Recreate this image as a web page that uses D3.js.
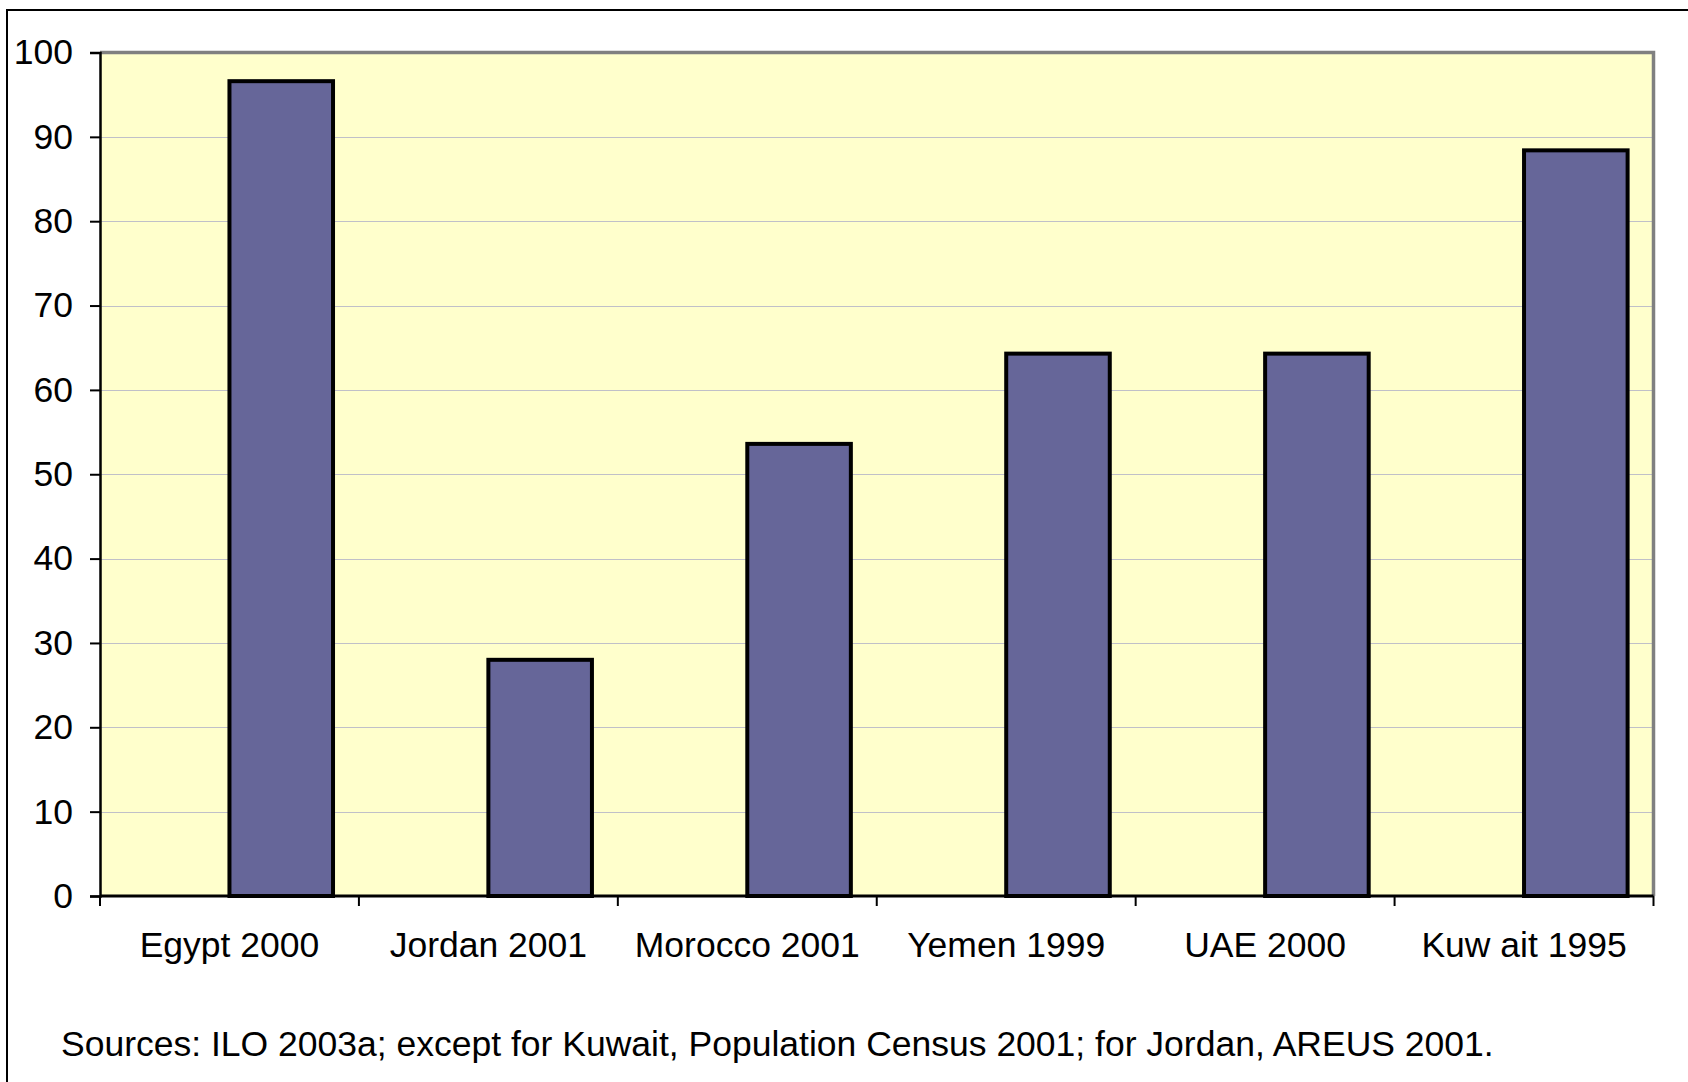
<!DOCTYPE html>
<html>
<head>
<meta charset="utf-8">
<script src="https://cdn.jsdelivr.net/npm/d3@7"></script>
<style>
  html, body { margin: 0; padding: 0; background: #ffffff; }
  svg { display: block; }
  text { font-family: Arial, "Liberation Sans", sans-serif; fill: #000; }
</style>
</head>
<body>
<svg id="chart" width="1688" height="1082"></svg>
<script>
const categories = ["Egypt 2000", "Jordan 2001", "Morocco 2001", "Yemen 1999", "UAE 2000", "Kuw ait 1995"];
const values = [96.6, 28.0, 53.6, 64.3, 64.3, 88.4];
const yTicks = [0, 10, 20, 30, 40, 50, 60, 70, 80, 90, 100];
const sourceNote = "Sources: ILO 2003a; except for Kuwait, Population Census 2001; for Jordan, AREUS 2001.";

const svg = d3.select("#chart");
const W = 1688, H = 1082;
const plot = { left: 100, right: 1653.5, top: 52.5, bottom: 896 };
const FS = 35.5;

// outer frame
svg.append("rect")
  .attr("x", 7).attr("y", 10)
  .attr("width", W + 20).attr("height", H + 20)
  .attr("fill", "#ffffff").attr("stroke", "#000").attr("stroke-width", 2);

const x = d3.scaleBand().domain(categories).range([plot.left, plot.right]).paddingInner(0).paddingOuter(0);
const y = d3.scaleLinear().domain([0, 100]).range([plot.bottom, plot.top]);

// plot area
svg.append("rect")
  .attr("x", plot.left).attr("y", plot.top)
  .attr("width", plot.right - plot.left).attr("height", plot.bottom - plot.top)
  .attr("fill", "#FFFFCC");

// gridlines
svg.append("g").selectAll("line")
  .data(yTicks.filter(t => t > 0 && t < 100))
  .join("line")
  .attr("x1", plot.left).attr("x2", plot.right)
  .attr("y1", d => Math.round(y(d)) + 0.5).attr("y2", d => Math.round(y(d)) + 0.5)
  .attr("stroke", "#C0C0C8").attr("stroke-width", 1.2);

// gray top/right border
svg.append("path")
  .attr("d", `M${plot.left},${plot.top} L${plot.right},${plot.top} L${plot.right},${plot.bottom}`)
  .attr("fill", "none").attr("stroke", "#808080").attr("stroke-width", 3.5);

// bars (second series of a two-series group with 50% gap)
const bw = x.bandwidth() * 0.4;
svg.append("g").selectAll("rect")
  .data(categories.map((c, i) => ({ c, v: values[i] })))
  .join("rect")
  .attr("x", d => x(d.c) + x.bandwidth() / 2)
  .attr("y", d => y(d.v))
  .attr("width", bw)
  .attr("height", d => y(0) - y(d.v))
  .attr("fill", "#666699")
  .attr("stroke", "#000").attr("stroke-width", 4);

// y axis
const yAxis = d3.axisLeft(y).tickValues(yTicks).tickSize(10).tickPadding(17).tickFormat(d3.format("d"));
const gy = svg.append("g").attr("transform", `translate(${plot.left},0)`).call(yAxis);
gy.select(".domain").attr("stroke", "#000").attr("stroke-width", 2.5);
gy.selectAll(".tick line").attr("stroke", "#000").attr("stroke-width", 2);
gy.selectAll(".tick text").attr("font-size", FS).attr("font-family", "Arial, 'Liberation Sans', sans-serif");

// x axis with ticks on band boundaries
const gx = svg.append("g").attr("transform", `translate(0,${plot.bottom})`);
gx.append("line")
  .attr("x1", plot.left).attr("x2", plot.right)
  .attr("stroke", "#000").attr("stroke-width", 3);
const boundaries = categories.map(c => x(c)).concat([plot.right]);
gx.selectAll("line.tk").data(boundaries).join("line").attr("class", "tk")
  .attr("x1", d => d).attr("x2", d => d).attr("y1", 0).attr("y2", 10)
  .attr("stroke", "#000").attr("stroke-width", 2);
gx.selectAll("text").data(categories).join("text")
  .attr("x", d => x(d) + x.bandwidth() / 2)
  .attr("y", 61)
  .attr("text-anchor", "middle")
  .attr("font-size", FS)
  .text(d => d);

// source note
svg.append("text")
  .attr("x", 61).attr("y", 1056)
  .attr("font-size", FS)
  .text(sourceNote);
</script>
</body>
</html>
